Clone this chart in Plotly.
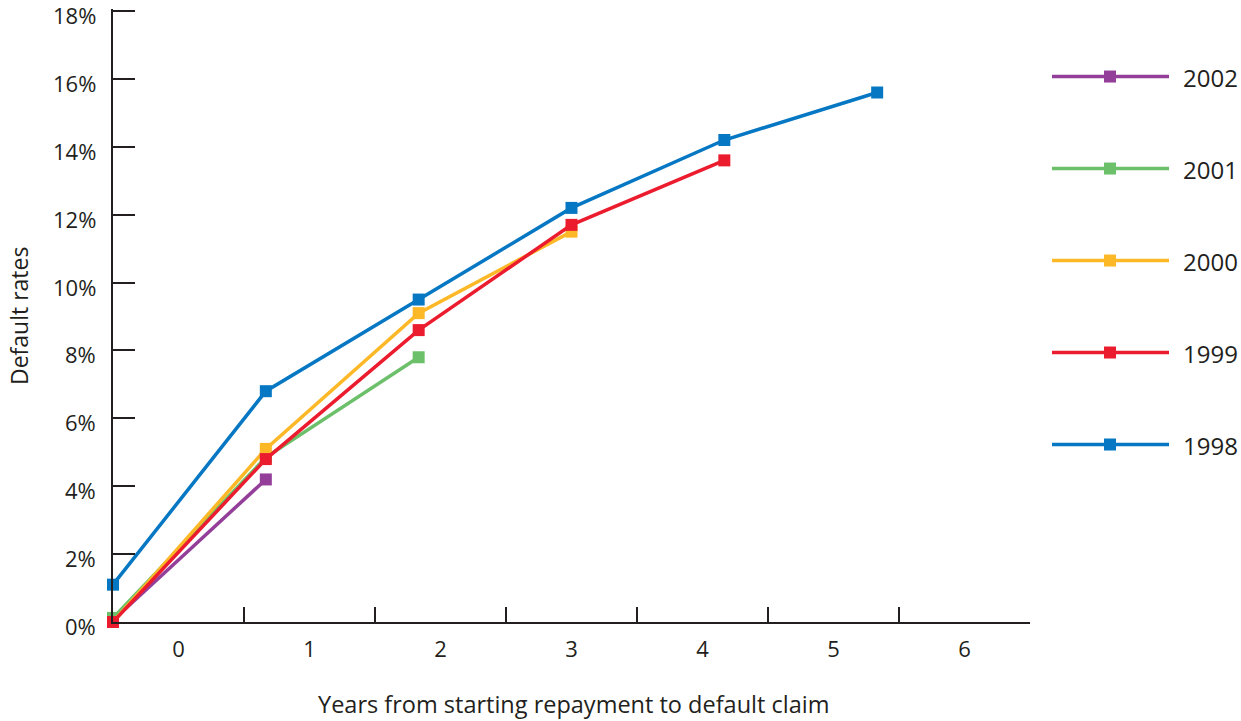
import plotly.graph_objects as go

years = ["2002", "2001", "2000", "1999", "1998"]
x_points = [0, 1, 2, 3, 4, 5]
rates = {
    "2002": [0.05, 4.2],
    "2001": [0.12, 4.85, 7.8],
    "2000": [0.0, 5.1, 9.1, 11.5],
    "1999": [0.0, 4.8, 8.6, 11.7, 13.6],
    "1998": [1.1, 6.8, 9.5, 12.2, 14.2, 15.6],
}
colors = {
    "2002": "#933f99",
    "2001": "#6cc06a",
    "2000": "#fdb827",
    "1999": "#ec1c2f",
    "1998": "#0677c3",
}
x_categories = ["0", "1", "2", "3", "4", "5", "6"]
y_ticks = [0, 2, 4, 6, 8, 10, 12, 14, 16, 18]
y_ticktext = [f"{v}%" for v in y_ticks]

TXT = "#231f20"
FONT = "Open Sans"
W, H = 1241, 721
L, R, B = 113, 1030, 622
Y_TOP = 18.06
T = B - Y_TOP * (B - 11) / 18.0

fig = go.Figure()

draw_order = ["2002", "2001", "2000", "1998", "1999"]
for yr in draw_order:
    vals = rates[yr]
    fig.add_trace(go.Scatter(
        x=x_points[:len(vals)], y=vals, mode="lines+markers", name=yr,
        line=dict(color=colors[yr], width=3.5),
        marker=dict(symbol="square", size=12, color=colors[yr]),
        cliponaxis=False, showlegend=False,
    ))

# invisible trace for the category axis
fig.add_trace(go.Scatter(
    x=x_categories, y=[0] * len(x_categories), xaxis="x2", mode="markers",
    marker=dict(opacity=0), hoverinfo="skip", showlegend=False,
))

def px_x(p):
    return (p - L) / (R - L)

def px_y(p):
    return (B - p) / (B - T)

shapes = []
annotations = []

# y tick labels (slightly below their tick marks, as in the reference)
for v, txt in zip(y_ticks, y_ticktext):
    annotations.append(dict(xref="paper", yref="y", x=px_x(98), y=v, yshift=-4,
                            text=txt, showarrow=False, xanchor="right",
                            yanchor="middle",
                            font=dict(family=FONT, size=22, color=TXT)))

# manual legend
for i, yr in enumerate(years):
    cy = 76.5 + i * 92
    shapes.append(dict(type="line", xref="paper", yref="paper",
                       x0=px_x(1052), x1=px_x(1169), y0=px_y(cy), y1=px_y(cy),
                       line=dict(color=colors[yr], width=3.5)))
    shapes.append(dict(type="rect", xref="paper", yref="paper",
                       x0=px_x(1104), x1=px_x(1116), y0=px_y(cy - 6), y1=px_y(cy + 6),
                       line=dict(width=0), fillcolor=colors[yr]))
    annotations.append(dict(xref="paper", yref="paper", x=px_x(1181), y=px_y(cy + 1),
                            text=yr, showarrow=False, xanchor="left", yanchor="middle",
                            font=dict(family=FONT, size=24, color=TXT)))

annotations.append(dict(xref="paper", yref="paper", x=px_x(19), y=px_y(316),
                        text="Default rates", textangle=-90, showarrow=False,
                        xanchor="center", yanchor="middle",
                        font=dict(family=FONT, size=23, color=TXT)))
annotations.append(dict(xref="paper", yref="paper", x=px_x(573), y=px_y(704),
                        text="Years from starting repayment to default claim",
                        showarrow=False, xanchor="center", yanchor="middle",
                        font=dict(family=FONT, size=23.5, color=TXT)))

fig.update_layout(
    width=W, height=H,
    margin=dict(l=L, r=W - R, t=T, b=H - B, pad=0, autoexpand=False),
    paper_bgcolor="white", plot_bgcolor="white",
    showlegend=False,
    font=dict(family=FONT, size=22, color=TXT),
    xaxis=dict(range=[0, 6], showgrid=False, zeroline=False, showticklabels=False,
               ticks="", showline=False, fixedrange=True, automargin=False),
    xaxis2=dict(overlaying="x", type="category", categoryorder="array",
                categoryarray=x_categories, range=[-0.5, 6.5],
                tickson="boundaries", ticks="inside", ticklen=15, tickwidth=2,
                tickcolor=TXT, showline=True, linecolor=TXT, linewidth=2,
                showgrid=False, zeroline=False, side="bottom", automargin=False,
                ticklabelstandoff=7, ticklabeloverflow="allow",
                tickfont=dict(family=FONT, size=22, color=TXT)),
    yaxis=dict(range=[0, Y_TOP], tickvals=y_ticks, showticklabels=False,
               ticks="inside", ticklen=22, tickwidth=2, tickcolor=TXT,
               showline=True, linecolor=TXT, linewidth=2, showgrid=False,
               zeroline=False, automargin=False),
    shapes=shapes,
    annotations=annotations,
)

fig.write_html("out.html")
